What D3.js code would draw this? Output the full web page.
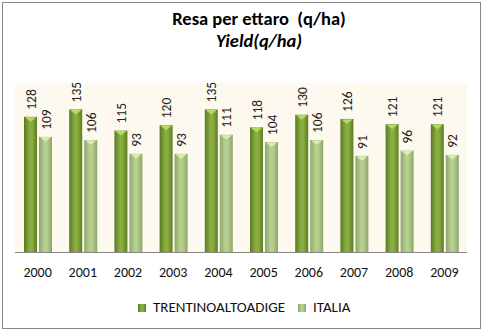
<!DOCTYPE html>
<html><head><meta charset="utf-8">
<script src="https://cdn.jsdelivr.net/npm/d3@7"></script>
<style>body{margin:0;background:#fff}svg{display:block}</style>
</head><body><svg id="c" width="483" height="331"></svg>
<script>
const years = ["2000","2001","2002","2003","2004","2005","2006","2007","2008","2009"];
const trentino = [128,135,115,120,135,118,130,126,121,121];
const italia = [109,106,93,93,111,104,106,91,96,92];
const seriesNames = ["TRENTINOALTOADIGE","ITALIA"];
const titleMain = "Resa per ettaro  (q/ha)";
const titleSub = "Yield(q/ha)";

const svg = d3.select("#c");
const fontC = "Carlito, 'Liberation Sans', 'Open Sans', sans-serif";

svg.append("rect").attr("x",2.5).attr("y",2.5).attr("width",478).attr("height",326)
  .attr("fill","#fff").attr("stroke","#888").attr("stroke-width",1);

const defs = svg.append("defs");
function grad(id, stops){
  const g = defs.append("linearGradient").attr("id",id).attr("x1","0").attr("x2","1").attr("y1","0").attr("y2","0");
  stops.forEach(s=>g.append("stop").attr("offset",s[0]).attr("stop-color",s[1]));
}
grad("gT", [[0,"#5a7a22"],[0.45,"#8cb043"],[0.65,"#86aa3d"],[1,"#5b7b24"]]);
grad("gI", [[0,"#8da66a"],[0.45,"#b9d293"],[0.65,"#b2cb8b"],[1,"#8ba568"]]);

const x0 = 15, x1 = 467, yTop = 83, yBase = 252;
svg.append("rect").attr("x",x0).attr("y",yTop).attr("width",x1-x0).attr("height",yBase-yTop).attr("fill","#fdf9ef");

const x = d3.scaleBand().domain(years).range([x0,x1]).paddingInner(0).paddingOuter(0);
const y = d3.scaleLinear().domain([0,160]).range([yBase, yTop]);
const bw = 13;
const offsets = [9, 24];
const data = [trentino, italia];
const fills = ["url(#gT)","url(#gI)"];
const tops = ["#b5dc5c","#d8ecb4"];

data.forEach((vals, si)=>{
  const g = svg.append("g");
  years.forEach((yr,i)=>{
    const bx = x(yr) + offsets[si];
    const by = y(vals[i]);
    g.append("rect").attr("x",bx).attr("y",by).attr("width",bw).attr("height",yBase-by).attr("fill",fills[si]);
    g.append("path").attr("d",`M${bx+1},${by+0.5} L${bx+bw-1},${by+0.5} L${bx+bw/2},${by+5} Z`).attr("fill",tops[si]);
    g.append("text").attr("transform",`translate(${bx+bw/2+5},${by-7}) rotate(-90)`)
      .attr("font-family",fontC).attr("font-size",13.5).attr("fill","#222").text(vals[i]);
  });
});

svg.append("line").attr("x1",x0).attr("x2",x1).attr("y1",yBase+0.5).attr("y2",yBase+0.5).attr("stroke","#888").attr("stroke-width",1);

const xAxis = d3.axisBottom(x).tickSize(0).tickPadding(15);
const ax = svg.append("g").attr("transform",`translate(0,${yBase})`).call(xAxis);
ax.select(".domain").remove();
ax.selectAll("text").attr("font-family",fontC).attr("font-size",14).attr("fill","#111");

svg.append("text").attr("x",259).attr("y",25).attr("text-anchor","middle").style("white-space","pre")
  .attr("font-family",fontC).attr("font-weight","bold").attr("font-size",18.5).attr("fill","#000").text(titleMain);
svg.append("text").attr("x",259).attr("y",47).attr("text-anchor","middle")
  .attr("font-family",fontC).attr("font-weight","bold").attr("font-style","italic").attr("font-size",18.5).attr("fill","#000").text(titleSub);

const leg = svg.append("g");
const legX = [138, 298];
seriesNames.forEach((n,i)=>{
  leg.append("rect").attr("x",legX[i]).attr("y",304).attr("width",8).attr("height",8).attr("fill",fills[i]);
  leg.append("text").attr("x",legX[i]+15).attr("y",312).attr("font-family",fontC).attr("font-size",15).attr("fill","#111").text(n);
});
</script></body></html>
